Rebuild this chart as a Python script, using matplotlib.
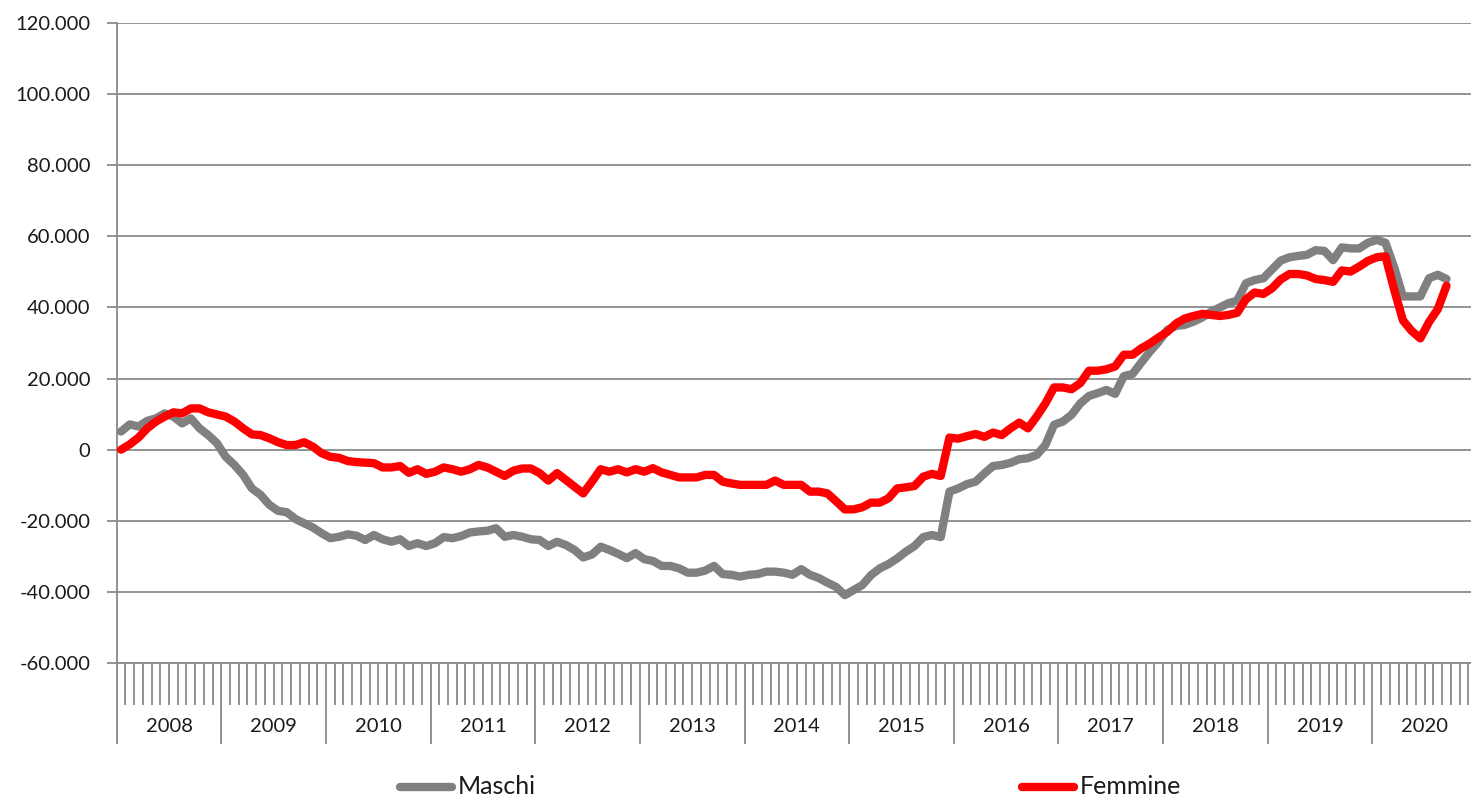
import matplotlib
matplotlib.use("Agg")
import matplotlib.pyplot as plt
import matplotlib.transforms as mtransforms
from matplotlib.lines import Line2D
from matplotlib.ticker import FuncFormatter, MultipleLocator, FixedLocator
import numpy as np

plt.rcParams['font.family'] = ['Lato', 'DejaVu Sans']

# Monthly values, Jan 2008 .. Sep 2020 (thousands)
years = ["2008", "2009", "2010", "2011", "2012", "2013", "2014",
         "2015", "2016", "2017", "2018", "2019", "2020"]

maschi = [
    5.1, 7.1, 6.5, 8.1, 8.8, 10.2, 9.3, 7.4, 8.8, 6.0, 4.1, 1.8,
    -2.0, -4.3, -7.1, -10.9, -12.7, -15.5, -17.2, -17.6, -19.5, -20.7, -21.9, -23.5,
    -24.9, -24.5, -23.8, -24.2, -25.4, -24.0, -25.2, -25.9, -25.2, -27.1, -26.3, -27.1,
    -26.3, -24.6, -24.9, -24.3, -23.3, -23.0, -22.8, -22.1, -24.5, -24.0, -24.5, -25.2,
    -25.4, -27.1, -25.9, -26.8, -28.2, -30.3, -29.5, -27.3, -28.2, -29.3, -30.5, -29.1,
    -30.8, -31.3, -32.7, -32.7, -33.4, -34.6, -34.6, -34.0, -32.7, -35.0, -35.2, -35.7,
    -35.2, -35.0, -34.3, -34.3, -34.6, -35.2, -33.6, -35.2, -36.1, -37.4, -38.6, -40.9,
    -39.5, -38.1, -35.3, -33.4, -32.2, -30.6, -28.7, -27.1, -24.6, -24.0, -24.6, -11.8,
    -10.9, -9.7, -9.0, -6.7, -4.6, -4.3, -3.7, -2.7, -2.4, -1.5, 1.3, 7.0,
    7.9, 9.8, 13.0, 15.1, 15.9, 16.8, 15.7, 20.7, 21.3, 24.5, 27.6, 30.4,
    33.7, 34.8, 35.1, 36.0, 37.2, 38.8, 40.0, 41.2, 41.9, 46.8, 47.7, 48.2,
    50.7, 53.2, 54.1, 54.5, 54.8, 56.1, 55.9, 53.3, 56.9, 56.6, 56.6, 58.2,
    59.0, 58.2, 51.3, 43.1, 43.1, 43.1, 48.2, 49.2, 48.0,
]

femmine = [
    0.0, 1.5, 3.4, 6.0, 7.9, 9.3, 10.5, 10.2, 11.6, 11.6, 10.5, 9.9,
    9.3, 7.9, 6.0, 4.3, 4.1, 3.2, 2.1, 1.3, 1.3, 2.1, 0.85, -1.0,
    -2.0, -2.3, -3.2, -3.5, -3.65, -3.8, -5.0, -5.0, -4.6, -6.5, -5.5, -6.8,
    -6.2, -5.0, -5.5, -6.2, -5.5, -4.3, -5.0, -6.2, -7.4, -5.9, -5.3, -5.3,
    -6.6, -8.7, -6.6, -8.5, -10.4, -12.3, -9.0, -5.5, -6.2, -5.5, -6.4, -5.5,
    -6.2, -5.2, -6.4, -7.1, -7.8, -7.8, -7.8, -7.1, -7.1, -9.0, -9.5, -9.9,
    -9.9, -9.9, -9.9, -8.7, -9.9, -9.9, -9.9, -11.8, -11.8, -12.3, -14.5, -16.8,
    -16.8, -16.2, -14.9, -14.9, -13.7, -10.9, -10.6, -10.2, -7.6, -6.8, -7.4, 3.4,
    3.1, 3.8, 4.4, 3.6, 4.8, 4.1, 6.0, 7.6, 6.0, 9.3, 13.0, 17.5,
    17.5, 17.0, 18.7, 22.2, 22.2, 22.6, 23.4, 26.7, 26.7, 28.5, 29.9, 31.6,
    33.2, 35.5, 36.9, 37.6, 38.2, 37.9, 37.6, 37.9, 38.5, 42.3, 44.2, 43.8,
    45.4, 47.9, 49.4, 49.4, 49.0, 48.0, 47.7, 47.2, 50.4, 50.1, 51.5, 53.1,
    54.1, 54.4, 45.0, 36.4, 33.4, 31.3, 35.9, 39.5, 46.1,
]

series_names = ["Maschi", "Femmine"]

W, H = 1471, 796
fig = plt.figure(figsize=(W / 100, H / 100), dpi=100)
x0, x1 = 116.7, 1477.0
ytop, ybot = 23.0, 663.0
ax = fig.add_axes([x0 / W, 1 - ybot / H, (x1 - x0) / W, (ybot - ytop) / H])

n_months = 12 * len(years)
xm = np.arange(len(maschi)) + 0.5
xf = np.arange(len(femmine)) + 0.5

grey = '#808080'
lw = 6.0
ax.plot(xm, np.array(maschi) * 1000, color=grey, lw=lw,
        solid_joinstyle='round', solid_capstyle='round', zorder=3)
ax.plot(xf, np.array(femmine) * 1000, color='#ff0000', lw=lw,
        solid_joinstyle='round', solid_capstyle='round', zorder=4)

ax.set_xlim(0, n_months)
ax.set_ylim(-60000, 120000)
ax.yaxis.set_major_locator(MultipleLocator(20000))
ax.yaxis.set_major_formatter(FuncFormatter(
    lambda v, p: "0" if abs(v) < 1 else f"{int(round(v)):,}".replace(",", ".")))
ax.grid(axis='y', color='#8a8a8a', lw=1.3, zorder=1)

for s in ['top', 'right']:
    ax.spines[s].set_visible(False)
for s in ['left', 'bottom']:
    ax.spines[s].set_color('#8a8a8a')
    ax.spines[s].set_linewidth(1.3)

ax.tick_params(axis='y', direction='out', length=7, width=1.3, color='#8a8a8a',
               labelsize=14.5, labelcolor='#1a1a1a', pad=12)

# Category axis: year boundaries (long ticks) and month boundaries (short ticks)
ax.xaxis.set_major_locator(FixedLocator(np.arange(0, n_months + 1, 12)))
ax.xaxis.set_minor_locator(FixedLocator([m for m in range(n_months + 1) if m % 12]))
ax.tick_params(axis='x', which='major', direction='out', length=58, width=1.3,
               color='#8a8a8a', labelbottom=False)
ax.tick_params(axis='x', which='minor', direction='out', length=30, width=1.3,
               color='#8a8a8a', labelbottom=False)

trans = mtransforms.blended_transform_factory(ax.transData, ax.transAxes)
ylab = -(727 - ybot) / (ybot - ytop)
for k, yr in enumerate(years):
    ax.text(12 * k + 6, ylab, yr, transform=trans, ha='center', va='center',
            fontsize=14.5, color='#1a1a1a')

# Legend
ly = 1 - 787 / H
fig.add_artist(Line2D([400 / W, 452 / W], [ly, ly], color=grey, lw=lw,
                      solid_capstyle='round'))
fig.text(458 / W, ly, series_names[0], ha='left', va='center', fontsize=18,
         color='#1a1a1a')
fig.add_artist(Line2D([1022 / W, 1074 / W], [ly, ly], color='#ff0000', lw=lw,
                      solid_capstyle='round'))
fig.text(1080 / W, ly, series_names[1], ha='left', va='center', fontsize=18,
         color='#1a1a1a')

fig.savefig("out.png", dpi=100)
